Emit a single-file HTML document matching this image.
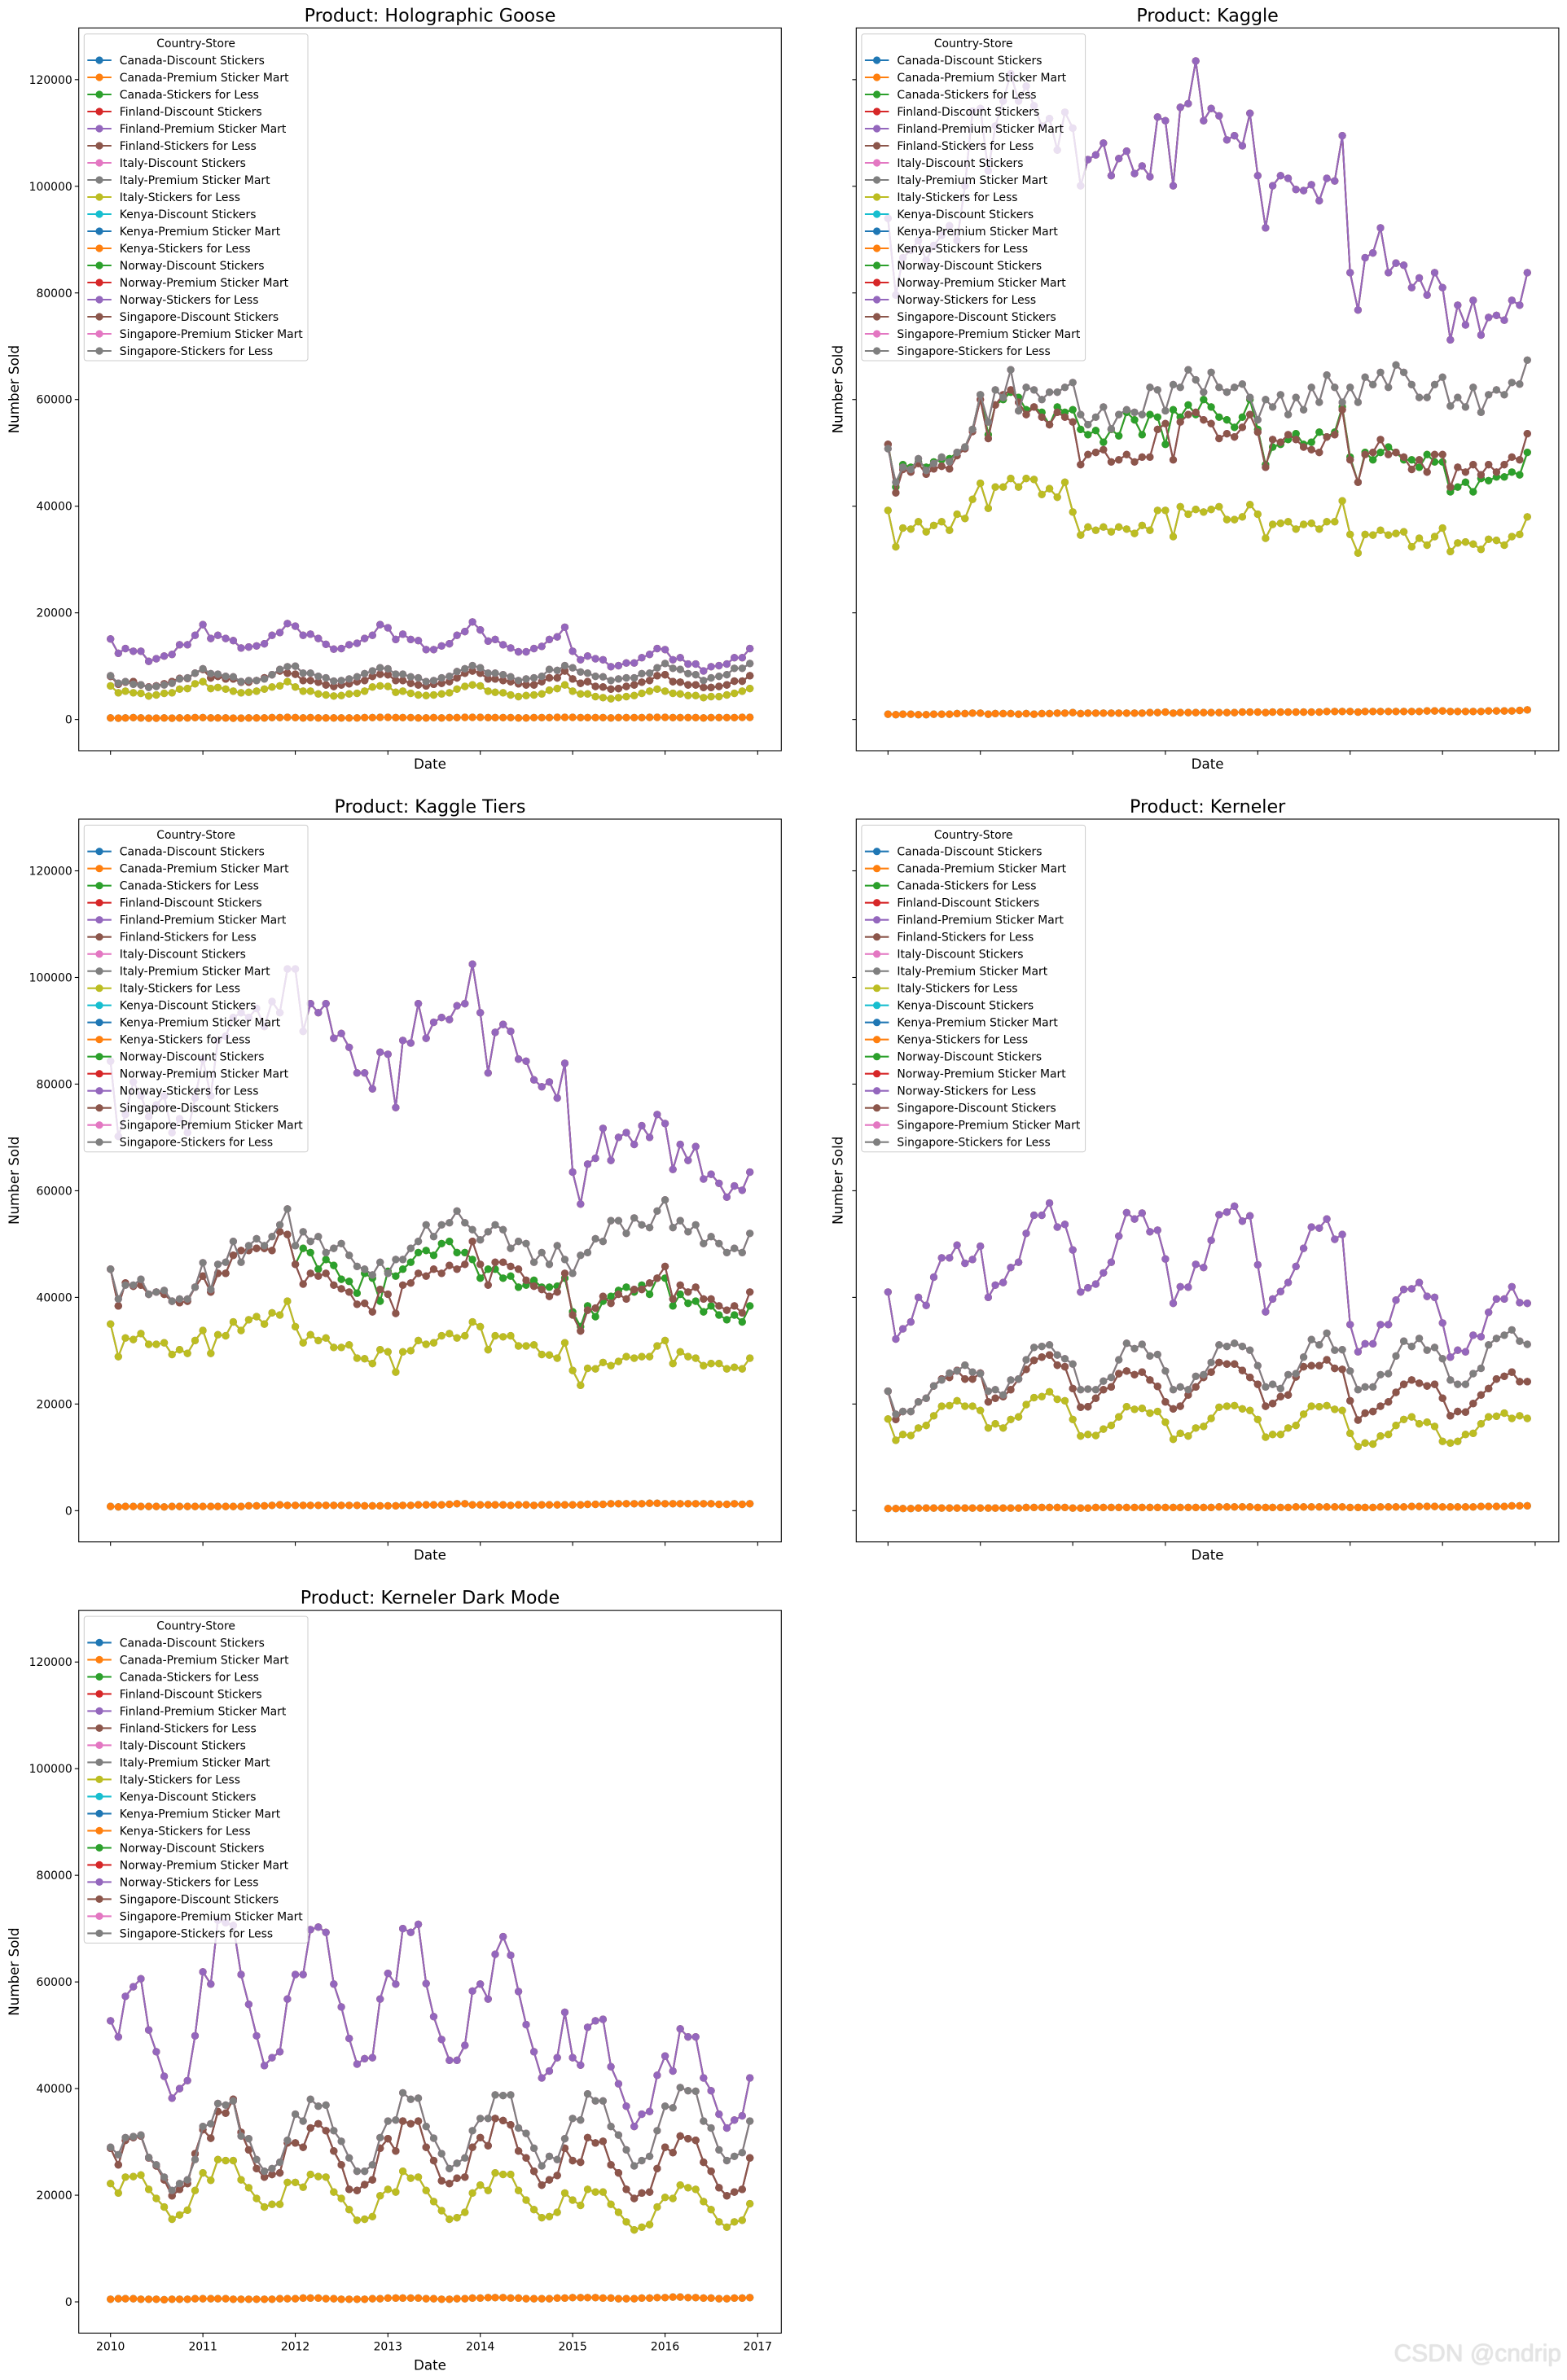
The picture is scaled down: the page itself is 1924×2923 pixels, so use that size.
<!DOCTYPE html>
<html>
<head>
<meta charset="utf-8">
<style>
  html,body{margin:0;padding:0;background:#fff;}
  svg{display:block;}
  text{font-family:"DejaVu Sans","Liberation Sans",sans-serif;fill:#000;}
  .wm{font-family:"Liberation Sans",sans-serif;fill:#e4e4e4;}
</style>
</head>
<body>
<svg id="fig" xmlns="http://www.w3.org/2000/svg" width="1924" height="2923" viewBox="0 0 1924 2923">
  <rect x="0" y="0" width="1924" height="2923" fill="#ffffff"/>
  <text class="wm" x="1917" y="2900" font-size="30" text-anchor="end" style="filter:drop-shadow(0.5px 0.5px 0.6px #c8c8c8)">CSDN @cndrip</text>
</svg>
<script>
// ---------------- DATA (values in thousands) ----------------
const categories = ["Holographic Goose","Kaggle","Kaggle Tiers","Kerneler","Kerneler Dark Mode"];
const countries = ["Canada","Finland","Italy","Kenya","Norway","Singapore"];
const stores = ["Discount Stickers","Premium Sticker Mart","Stickers for Less"];
const yTickValues = [0,20000,40000,60000,80000,100000,120000];
const yTickLabels = ["0","20000","40000","60000","80000","100000","120000"];
const xTickYears = [2010,2011,2012,2013,2014,2015,2016,2017];
const xTickLabels = ["2010","2011","2012","2013","2014","2015","2016","2017"];

// Holographic Goose
const hgNorway = [15.1,12.4,13.3,12.8,12.8,10.9,11.4,11.9,12.2,14.0,14.0,15.8, 17.8,15.2,15.8,15.2,14.8,13.4,13.6,13.8,14.2,15.8,16.3,18.0, 17.5,15.8,16.0,15.2,14.1,13.2,13.3,14.0,14.3,15.2,15.8,17.8, 17.2,15.0,16.0,15.0,14.8,13.1,13.1,13.8,14.2,15.8,16.5,18.3, 16.8,14.7,15.0,14.0,13.4,12.7,12.7,13.3,13.7,15.0,15.5,17.3, 12.8,11.2,11.9,11.4,11.2,9.9,10.1,10.6,10.6,11.6,12.2,13.3, 13.1,11.2,11.6,10.4,10.4,9.1,9.9,10.1,10.4,11.6,11.6,13.3];
const hgSingapore = [8.2,6.8,7.1,6.6,6.5,6.0,6.2,6.5,6.8,7.6,7.8,8.7, 9.5,8.6,8.5,8.1,8.0,7.1,7.3,7.3,7.6,8.4,9.4,9.9, 10.0,8.7,8.7,8.1,7.8,7.2,7.3,7.6,8.0,8.6,9.1,9.7, 9.5,8.5,8.5,8.0,7.8,7.1,7.3,7.8,8.1,9.0,9.5,10.1, 9.7,8.7,8.7,8.4,8.0,7.3,7.6,7.8,8.1,9.4,9.2,10.1, 9.7,8.9,8.7,8.1,8.0,7.3,7.6,7.8,7.8,8.6,8.7,9.7, 10.5,9.6,9.4,8.6,8.4,7.3,7.8,8.1,8.4,9.6,9.6,10.5];
const hgCanada = [8.1,6.6,7.0,7.1,6.5,6.1,6.3,6.7,7.1,7.7,7.7,8.7, 9.4,7.8,8.1,7.6,7.6,7.0,7.0,7.3,7.8,8.4,9.1,8.7, 8.5,7.3,7.3,7.0,6.5,6.2,6.5,6.7,7.1,7.3,8.1,8.5, 8.4,7.3,7.3,6.8,6.5,6.3,6.6,6.8,7.1,7.8,8.7,9.1, 8.7,7.6,7.6,7.3,7.1,6.7,6.5,6.5,7.1,7.8,7.8,9.1, 7.6,6.8,7.1,6.2,6.1,5.7,5.8,6.2,6.5,7.0,7.3,8.2, 8.4,7.1,7.0,6.5,6.5,6.0,6.0,6.2,6.5,7.2,7.2,8.2];
const hgFinland = [8.1,6.6,7.0,7.1,6.5,6.1,6.3,6.7,7.1,7.7,7.7,8.7, 9.4,7.8,8.1,7.6,7.6,7.0,7.0,7.3,7.8,8.4,9.1,8.7, 8.5,7.3,7.3,7.0,6.5,6.2,6.5,6.7,7.1,7.3,8.1,8.5, 8.4,7.3,7.3,6.8,6.5,6.3,6.6,6.8,7.1,7.8,8.7,9.1, 8.7,7.6,7.6,7.3,7.1,6.7,6.5,6.5,7.1,7.8,7.8,9.1, 7.6,6.8,7.1,6.2,6.1,5.7,5.8,6.2,6.5,7.0,7.3,8.2, 8.4,7.1,7.0,6.5,6.5,6.0,6.0,6.2,6.5,7.2,7.2,8.2];
const hgItaly = [6.3,5.0,5.3,5.0,4.9,4.4,4.6,4.9,5.0,5.7,5.8,6.7, 7.1,5.8,6.0,5.7,5.3,5.0,5.1,5.3,5.7,6.1,6.3,7.1, 6.1,5.3,5.3,4.8,4.6,4.4,4.5,4.8,4.9,5.3,6.1,6.3, 6.2,5.1,5.3,4.9,4.6,4.5,4.6,4.8,5.0,5.7,6.2,6.5, 6.3,5.3,5.1,5.0,4.6,4.3,4.5,4.6,4.8,5.5,5.8,6.5, 5.3,4.8,4.8,4.3,4.1,3.9,4.1,4.3,4.5,4.9,5.3,5.7, 5.3,4.9,4.8,4.5,4.5,4.1,4.3,4.3,4.6,4.9,5.3,5.8];
const hgKenya = [0.3,0.25,0.3,0.35,0.3,0.25,0.25,0.3,0.25,0.3,0.3,0.35, 0.35,0.3,0.3,0.3,0.25,0.25,0.3,0.3,0.3,0.35,0.35,0.4, 0.35,0.3,0.35,0.3,0.3,0.3,0.3,0.3,0.3,0.35,0.35,0.4, 0.4,0.35,0.35,0.35,0.3,0.3,0.35,0.3,0.35,0.35,0.4,0.4, 0.4,0.35,0.35,0.35,0.35,0.3,0.3,0.35,0.35,0.35,0.4,0.4, 0.4,0.35,0.35,0.35,0.35,0.3,0.35,0.35,0.35,0.35,0.4,0.4, 0.4,0.35,0.35,0.35,0.35,0.3,0.35,0.35,0.35,0.35,0.4,0.4];

// Kaggle
const kgNorway = [94.0,79.6,86.6,88.0,89.8,86.1,88.9,90.8,92.6,89.8,100.1,114.1, 114.6,102.9,111.3,116.0,121.1,116.0,118.8,115.1,111.3,112.7,106.8,113.9, 110.9,100.1,105.0,105.9,108.1,102.0,105.2,106.6,102.4,103.8,101.8,113.0, 112.3,100.1,114.8,115.5,123.5,112.3,114.6,113.2,108.7,109.5,107.6,113.7, 102.0,92.2,100.1,102.0,101.5,99.4,99.2,100.3,97.3,101.5,101.0,109.5, 83.8,76.8,86.6,87.5,92.2,83.8,85.6,85.2,81.0,82.8,79.6,83.8, 81.0,71.2,77.7,74.0,78.6,72.1,75.4,75.8,74.9,78.6,77.7,83.8];
const kgSingapore = [50.8,44.5,47.3,46.9,48.9,46.7,48.0,49.2,48.3,50.1,51.1,54.4, 60.9,55.8,61.8,60.4,65.6,57.9,62.3,61.8,60.0,61.4,61.4,62.3, 63.2,57.2,55.3,56.7,58.6,54.5,57.2,58.1,57.6,57.2,62.3,61.8, 57.9,62.8,62.3,65.6,63.7,61.4,65.1,62.3,61.4,62.3,62.9,60.4, 56.2,60.0,58.6,60.9,57.2,60.4,58.1,62.3,59.5,64.6,62.3,59.5, 62.3,59.5,64.2,62.8,65.1,62.3,66.5,65.1,62.8,60.4,60.4,62.8, 64.2,58.8,60.4,58.6,62.3,57.6,60.9,61.8,60.9,63.2,62.9,67.4];
const kgCanada = [51.6,43.6,47.8,47.3,48.3,47.3,48.3,48.7,48.9,50.1,51.1,54.4, 60.9,53.4,59.0,60.0,61.4,60.4,58.1,58.6,57.6,55.3,58.6,57.6, 58.1,54.4,53.4,54.2,52.0,54.4,53.2,57.6,56.2,53.4,57.2,56.7, 51.6,58.1,56.7,59.0,57.2,60.0,58.6,56.7,56.2,54.8,56.7,60.0, 54.4,47.8,51.1,51.6,52.5,53.6,51.6,52.0,53.9,53.0,53.9,58.6, 49.2,44.5,50.1,48.7,50.1,51.1,50.1,48.7,48.7,47.3,49.7,48.3, 48.3,42.7,43.6,44.5,42.7,45.2,44.8,45.5,45.5,46.4,45.9,50.1];
const kgFinland = [51.6,42.5,46.9,46.4,48.0,46.0,47.0,47.5,47.0,49.5,50.8,54.0, 60.0,52.7,59.0,60.9,61.8,59.5,57.2,58.6,56.7,55.3,57.6,56.7, 55.8,47.8,49.7,50.1,50.6,48.3,48.7,49.7,48.3,49.2,49.2,54.4, 55.5,48.7,55.8,57.2,57.6,56.2,55.5,52.7,53.6,53.0,54.8,57.2, 53.9,47.3,52.5,52.0,53.4,52.5,51.1,50.6,50.1,53.0,53.4,58.1, 48.7,44.5,49.7,50.1,52.5,49.7,50.1,49.2,46.9,48.7,46.4,49.7, 49.7,43.6,47.3,46.4,47.8,45.9,47.8,46.4,47.8,49.2,48.7,53.6];
const kgItaly = [39.2,32.4,35.9,35.7,37.1,35.2,36.4,37.1,35.5,38.5,37.7,41.3, 44.3,39.6,43.6,43.6,45.2,43.6,45.2,45.0,42.2,43.3,41.7,44.5, 38.9,34.6,36.1,35.5,36.1,35.2,36.1,35.7,34.9,36.4,35.5,39.2, 39.2,34.3,39.9,38.5,39.4,38.9,39.4,39.9,37.5,37.5,38.0,40.3, 38.5,34.0,36.6,36.8,37.1,35.7,36.6,36.8,35.7,37.1,37.1,41.0, 34.7,31.2,34.7,34.6,35.5,34.6,34.9,35.2,32.4,34.0,32.7,34.3, 35.9,31.5,33.1,33.3,32.9,31.9,33.8,33.6,32.7,34.3,34.7,38.0];
const kgKenya = [1.0,0.9,1.0,1.0,0.9,0.9,1.0,1.0,1.0,1.1,1.1,1.2, 1.2,1.0,1.1,1.1,1.1,1.0,1.1,1.0,1.1,1.1,1.2,1.2, 1.3,1.1,1.2,1.2,1.2,1.2,1.2,1.2,1.2,1.2,1.3,1.3, 1.4,1.2,1.3,1.3,1.3,1.3,1.3,1.3,1.3,1.3,1.4,1.4, 1.4,1.3,1.4,1.4,1.4,1.4,1.4,1.4,1.4,1.5,1.5,1.5, 1.5,1.4,1.5,1.5,1.5,1.5,1.5,1.5,1.5,1.5,1.6,1.6, 1.6,1.5,1.5,1.5,1.5,1.5,1.6,1.6,1.6,1.6,1.7,1.8];

// Kaggle Tiers
const ktNorway = [84.3,70.2,74.3,80.4,77.8,73.9,76.1,77.8,70.9,73.5,70.9,77.4, 84.7,77.8,88.2,89.0,92.5,93.4,92.5,94.2,90.8,95.5,93.4,101.6, 101.6,89.9,95.1,93.4,95.1,88.6,89.5,86.9,82.1,82.1,79.1,86.0, 85.6,75.6,88.2,87.7,95.1,88.6,91.6,92.5,92.1,94.7,95.1,102.5, 93.4,82.1,89.7,91.2,89.9,84.7,84.3,80.8,79.5,80.4,77.4,83.9, 63.5,57.5,65.0,66.1,71.7,65.7,70.0,70.9,68.7,72.2,70.0,74.3, 72.6,64.0,68.7,65.7,68.3,62.2,63.1,61.4,58.8,60.9,60.1,63.5];
const ktSingapore = [45.3,39.7,42.3,42.3,43.4,40.6,41.0,41.3,39.3,39.7,39.7,41.9, 46.5,41.5,46.2,46.6,50.5,46.6,49.7,51.0,49.7,51.4,53.6,56.6, 49.7,52.3,50.5,51.4,48.4,49.2,50.1,47.9,45.8,45.3,44.2,46.6, 44.5,47.1,47.1,49.2,50.5,53.6,51.4,53.6,54.0,56.2,54.0,52.7, 50.8,52.3,53.6,52.7,49.2,50.5,50.1,46.6,48.4,46.2,49.7,47.1, 44.5,47.9,48.4,51.0,50.5,54.4,54.4,52.0,54.9,53.6,53.1,56.2, 58.3,53.1,54.4,52.3,53.6,50.1,51.4,50.1,48.4,49.2,48.4,52.0];
const ktCanada = [45.3,38.4,42.7,42.1,42.3,40.6,41.0,40.6,39.3,39.0,39.3,41.9, 44.0,41.0,44.5,44.5,47.9,48.8,48.8,49.2,49.2,48.8,52.3,51.8, 46.2,49.2,48.4,45.3,47.1,46.0,43.4,43.0,40.8,44.5,43.6,39.3, 44.9,44.0,45.3,46.6,48.4,48.8,47.9,50.1,50.5,48.4,48.4,47.1, 43.6,45.3,45.3,43.6,44.0,41.9,42.3,43.2,41.9,41.9,42.1,43.6, 37.3,34.5,38.4,36.4,39.3,40.2,41.3,41.9,41.0,42.3,40.6,43.6, 43.6,38.4,40.6,38.9,39.3,37.3,38.4,36.7,35.8,36.7,35.4,38.4];
const ktFinland = [45.3,38.4,42.7,42.1,42.3,40.6,41.0,40.6,39.3,39.0,39.3,41.9, 44.0,41.0,44.5,44.5,47.9,48.8,48.8,49.2,49.2,48.8,52.3,51.8, 46.2,42.5,44.5,44.0,44.5,42.3,41.6,41.0,38.7,38.9,37.3,41.5, 40.6,37.0,42.3,42.7,44.5,44.0,45.3,44.5,46.0,45.3,46.2,50.5, 46.2,42.3,46.6,46.6,45.8,45.3,43.2,42.1,41.5,40.2,41.0,44.5, 36.7,33.7,37.6,38.0,40.2,38.9,40.6,39.7,41.5,41.5,42.7,43.6, 45.8,39.7,42.3,41.0,41.9,39.7,39.7,38.4,37.6,38.4,37.1,41.0];
const ktItaly = [35.0,28.9,32.4,32.1,33.2,31.2,31.2,31.5,29.3,30.2,29.5,31.9, 33.8,29.5,33.0,32.8,35.4,33.8,35.8,36.4,35.0,37.1,36.7,39.3, 34.5,31.5,33.0,31.9,32.4,30.6,30.6,31.1,28.6,28.5,27.6,30.2, 29.8,26.0,29.8,30.0,31.9,31.2,31.5,32.8,33.2,32.4,32.8,35.4, 34.5,30.2,32.8,32.6,32.8,30.9,30.9,31.1,29.3,29.2,28.6,31.5, 26.3,23.5,26.7,26.6,27.8,27.2,28.0,28.9,28.6,28.9,28.9,30.9, 31.9,27.6,29.8,28.9,28.6,27.2,27.6,27.6,26.6,26.9,26.6,28.6];
const ktKenya = [0.8,0.7,0.8,0.8,0.8,0.8,0.8,0.7,0.8,0.8,0.8,0.8, 0.8,0.8,0.8,0.8,0.8,0.8,0.9,0.9,0.9,1.0,1.1,1.0, 1.0,1.0,1.0,1.0,1.0,1.0,1.0,1.0,1.0,0.9,0.9,0.9, 0.9,0.9,1.0,1.0,1.1,1.1,1.1,1.1,1.2,1.3,1.3,1.1, 1.1,1.1,1.1,1.1,1.0,1.1,1.1,1.0,1.1,1.1,1.1,1.1, 1.1,1.1,1.2,1.2,1.2,1.3,1.3,1.3,1.3,1.3,1.4,1.4, 1.3,1.3,1.3,1.3,1.3,1.3,1.3,1.2,1.2,1.3,1.2,1.3];

// Kerneler
const knNorway = [41.0,32.2,34.1,35.4,40.0,38.5,43.8,47.4,47.4,49.8,46.4,47.1, 49.6,40.0,42.3,42.8,45.6,46.6,52.0,55.4,55.4,57.7,53.2,53.7, 48.9,41.0,41.8,42.5,44.6,46.6,51.5,55.9,54.7,55.8,52.3,52.6, 47.2,38.9,42.0,41.9,46.2,45.6,50.7,55.5,56.0,57.1,54.3,55.3, 46.1,37.3,39.7,41.1,42.8,45.8,49.2,53.2,53.0,54.7,50.9,51.8, 34.9,29.8,31.3,31.3,34.9,34.9,39.5,41.5,41.6,42.8,40.2,40.0, 35.2,28.8,30.1,29.8,32.9,32.6,37.2,39.7,39.7,42.0,39.0,38.9];
const knSingapore = [22.4,18.1,18.6,18.6,20.4,21.1,23.4,24.5,25.8,26.2,27.3,26.0, 25.7,22.4,22.7,21.7,24.5,24.7,28.3,30.6,30.8,31.1,29.2,28.5, 27.5,22.7,22.8,22.7,24.3,25.0,28.3,31.4,30.4,31.2,29.0,29.3, 26.2,22.7,23.2,22.7,25.2,25.5,27.8,31.1,30.8,31.4,30.8,30.1, 27.2,23.2,23.7,22.9,25.5,25.7,28.8,32.1,31.1,33.3,30.1,30.2, 26.2,22.7,23.2,23.2,25.5,25.7,29.0,31.8,30.8,32.3,30.1,30.6, 28.5,24.5,23.7,23.7,25.7,26.7,31.1,32.3,32.9,33.9,31.8,31.2];
const knCanada = [22.4,17.1,18.6,18.6,20.4,21.1,23.4,24.7,25.0,26.3,24.7,24.7, 25.8,20.4,21.1,21.4,22.7,24.7,26.5,28.2,28.8,29.2,27.3,27.0, 22.9,19.4,19.5,21.1,22.7,23.2,25.7,26.2,25.5,26.0,24.5,23.3, 20.4,19.1,19.6,21.7,23.2,25.0,26.0,27.8,27.5,27.5,26.3,25.0, 23.7,19.6,20.1,21.4,21.7,25.1,27.0,27.2,27.2,28.3,26.7,26.5, 20.6,17.0,18.3,18.6,19.6,20.4,22.2,23.7,24.5,23.9,23.4,23.7, 21.1,17.8,18.6,18.5,20.1,21.7,22.9,24.7,25.2,26.0,24.2,24.2];
const knFinland = [22.4,17.1,18.6,18.6,20.4,21.1,23.4,24.7,25.0,26.3,24.7,24.7, 25.8,20.4,21.1,21.4,22.7,24.7,26.5,28.2,28.8,29.2,27.3,27.0, 22.9,19.4,19.5,21.1,22.7,23.2,25.7,26.2,25.5,26.0,24.5,23.3, 20.4,19.1,19.6,21.7,23.2,25.0,26.0,27.8,27.5,27.5,26.3,25.0, 23.7,19.6,20.1,21.4,21.7,25.1,27.0,27.2,27.2,28.3,26.7,26.5, 20.6,17.0,18.3,18.6,19.6,20.4,22.2,23.7,24.5,23.9,23.4,23.7, 21.1,17.8,18.6,18.5,20.1,21.7,22.9,24.7,25.2,26.0,24.2,24.2];
const knItaly = [17.2,13.2,14.3,14.1,15.5,16.0,17.8,19.6,19.7,20.6,19.6,19.6, 18.8,15.5,16.3,15.5,17.1,17.6,19.9,21.2,21.4,22.3,20.9,20.6, 17.1,14.0,14.3,14.1,15.3,16.0,17.6,19.5,19.0,19.2,18.3,18.6, 16.6,13.4,14.5,14.0,15.5,15.8,17.3,19.4,19.6,19.7,19.1,18.8, 17.1,13.8,14.3,14.3,15.5,16.0,18.1,19.6,19.5,19.7,19.0,18.8, 14.5,12.0,12.7,12.5,14.0,14.3,16.0,17.1,17.6,16.3,16.6,15.8, 13.0,12.7,13.0,14.3,14.5,16.3,17.6,17.7,18.3,17.3,17.8,17.3];
const knKenya = [0.4,0.4,0.4,0.4,0.5,0.5,0.5,0.5,0.5,0.5,0.5,0.5, 0.5,0.5,0.5,0.5,0.5,0.5,0.6,0.6,0.6,0.6,0.6,0.6, 0.5,0.5,0.5,0.6,0.6,0.6,0.6,0.6,0.6,0.6,0.6,0.6, 0.6,0.6,0.6,0.6,0.6,0.6,0.6,0.7,0.7,0.7,0.7,0.7, 0.6,0.6,0.6,0.6,0.6,0.7,0.7,0.7,0.7,0.7,0.7,0.7, 0.6,0.6,0.6,0.6,0.7,0.7,0.7,0.7,0.8,0.8,0.8,0.8, 0.7,0.7,0.7,0.7,0.7,0.8,0.8,0.8,0.8,0.9,0.9,0.9];

// Kerneler Dark Mode
const kdNorway = [52.7,49.7,57.3,59.1,60.6,51.0,46.9,42.3,38.2,40.0,41.5,49.9, 61.9,59.6,71.6,71.1,70.6,61.4,55.8,49.9,44.3,45.8,46.9,56.8, 61.4,61.4,69.8,70.3,69.3,59.6,55.3,49.4,44.6,45.6,45.8,56.8, 61.6,59.6,70.0,69.3,70.8,59.7,53.5,49.2,45.3,45.3,48.1,58.3, 59.6,56.8,65.2,68.5,65.0,58.2,52.0,46.9,42.0,43.3,45.8,54.3, 45.8,44.4,51.5,52.7,53.0,44.1,40.9,36.7,32.9,35.2,35.7,42.5, 46.1,43.3,51.2,49.7,49.7,42.0,39.6,35.2,32.6,34.1,34.9,42.0];
const kdSingapore = [29.0,27.6,30.8,31.0,31.3,27.1,25.7,23.4,20.9,22.2,22.9,26.7, 32.9,33.4,37.2,36.9,37.7,31.1,30.6,26.7,24.5,25.0,26.2,30.3, 35.2,33.9,38.0,36.7,36.9,32.1,30.1,27.0,24.5,24.5,25.7,30.8, 33.9,34.1,39.2,38.0,38.2,32.9,30.7,27.8,25.0,26.0,27.0,32.1, 34.4,34.4,38.8,38.7,38.8,32.6,31.6,28.8,25.5,27.3,26.7,30.6, 34.4,34.1,39.0,37.7,37.7,32.9,31.3,28.5,25.5,26.5,27.3,32.1, 36.7,36.4,40.2,39.6,39.5,33.9,32.6,28.5,26.5,27.3,28.0,33.9];
const kdCanada = [28.8,25.7,30.3,30.8,31.1,27.0,25.5,22.9,19.9,21.1,22.2,27.8, 32.3,30.7,35.7,35.4,38.0,31.8,28.5,25.0,23.4,23.9,24.2,29.8, 29.8,29.0,32.6,33.4,32.1,28.3,25.7,21.1,20.9,22.0,22.9,28.8, 30.6,28.3,33.9,33.4,33.9,29.0,26.5,22.7,22.2,23.2,23.4,29.0, 30.8,29.3,34.4,34.0,33.2,28.3,27.0,24.5,21.9,22.9,23.7,28.8, 26.5,26.2,30.8,29.8,30.1,25.7,24.2,21.1,19.4,20.4,20.6,25.0, 29.0,28.0,31.1,30.6,30.3,26.2,24.5,21.4,19.9,20.6,21.1,27.0];
const kdFinland = [28.8,25.7,30.3,30.8,31.1,27.0,25.5,22.9,19.9,21.1,22.2,27.8, 32.3,30.7,35.7,35.4,38.0,31.8,28.5,25.0,23.4,23.9,24.2,29.8, 29.8,29.0,32.6,33.4,32.1,28.3,25.7,21.1,20.9,22.0,22.9,28.8, 30.6,28.3,33.9,33.4,33.9,29.0,26.5,22.7,22.2,23.2,23.4,29.0, 30.8,29.3,34.4,34.0,33.2,28.3,27.0,24.5,21.9,22.9,23.7,28.8, 26.5,26.2,30.8,29.8,30.1,25.7,24.2,21.1,19.4,20.4,20.6,25.0, 29.0,28.0,31.1,30.6,30.3,26.2,24.5,21.4,19.9,20.6,21.1,27.0];
const kdItaly = [22.2,20.4,23.4,23.5,23.8,21.1,19.4,17.8,15.5,16.3,17.2,20.9, 24.2,22.8,26.7,26.5,26.5,22.9,21.4,19.4,17.8,18.3,18.3,22.4, 22.4,21.5,23.9,23.5,23.4,20.6,19.4,17.3,15.3,15.5,16.0,19.9, 21.1,20.6,24.5,23.2,23.4,20.9,18.8,17.1,15.5,15.8,16.8,20.4, 21.9,20.9,24.2,23.9,23.9,20.9,19.1,17.3,15.8,16.0,16.8,20.4, 19.1,18.1,21.1,20.6,20.6,18.3,16.8,15.0,13.5,14.0,14.5,17.8, 19.6,19.4,21.9,21.4,21.1,18.8,17.3,15.0,14.0,15.0,15.3,18.4];
const kdKenya = [0.5,0.6,0.6,0.6,0.5,0.5,0.5,0.4,0.5,0.5,0.5,0.6, 0.6,0.6,0.6,0.6,0.5,0.5,0.5,0.5,0.5,0.5,0.6,0.6, 0.6,0.7,0.7,0.7,0.6,0.6,0.5,0.5,0.5,0.5,0.6,0.6, 0.7,0.7,0.7,0.7,0.7,0.6,0.6,0.5,0.5,0.6,0.6,0.7, 0.7,0.8,0.8,0.8,0.7,0.7,0.6,0.6,0.6,0.6,0.7,0.7, 0.8,0.8,0.8,0.8,0.7,0.7,0.6,0.6,0.6,0.7,0.7,0.8, 0.8,0.9,0.9,0.8,0.8,0.7,0.7,0.6,0.6,0.7,0.7,0.8];

const productBands = [
  [hgCanada,hgFinland,hgItaly,hgKenya,hgNorway,hgSingapore],
  [kgCanada,kgFinland,kgItaly,kgKenya,kgNorway,kgSingapore],
  [ktCanada,ktFinland,ktItaly,ktKenya,ktNorway,ktSingapore],
  [knCanada,knFinland,knItaly,knKenya,knNorway,knSingapore],
  [kdCanada,kdFinland,kdItaly,kdKenya,kdNorway,kdSingapore]
];

// ---------------- LAYOUT ----------------
const NS = "http://www.w3.org/2000/svg";
const svg = document.getElementById("fig");
const COLORS = ["#1f77b4","#ff7f0e","#2ca02c","#d62728","#9467bd","#8c564b","#e377c2","#7f7f7f","#bcbd22","#17becf"];
const colX = [96.7, 1051.3];
const rowY = [34.3, 1006.0, 1977.7];
const AW = 862.6, AH = 887.7;
const YMIN = -5.86, YMAX = 129.7;
const PX_PER_DAY = 794.6 / 2557;
const T0 = Date.UTC(2010,0,1);
const MR = 4.6;

function mk(tag, attrs, parent){
  const e = document.createElementNS(NS, tag);
  for (const k in attrs) e.setAttribute(k, attrs[k]);
  (parent || svg).appendChild(e);
  return e;
}
function monthDays(m){ return (Date.UTC(2010 + Math.floor(m/12), m%12, 1) - T0) / 86400000; }
function yearDays(y){ return (Date.UTC(y,0,1) - T0) / 86400000; }

categories.forEach(function(prod, p){
  const r = Math.floor(p/2), c = p%2;
  const X0 = colX[c], Y0 = rowY[r];
  const xs = function(days){ return X0 + 39 + days*PX_PER_DAY; };
  const ys = function(v){ return Y0 + (YMAX - v)/(YMAX - YMIN)*AH; };
  const g = mk("g", {});
  
  

  const cp = mk("clipPath", {id:"clip"+p}, g);
  mk("rect", {x:X0, y:Y0, width:AW, height:AH}, cp);

  const sg = mk("g", {"clip-path":"url(#clip"+p+")"}, g);
  let si = 0;
  countries.forEach(function(country, ci){
    const band = productBands[p][ci];
    stores.forEach(function(store){
      const col = COLORS[si % 10];
      const lg = mk("g", {}, sg);
      
      
      const pts = band.map(function(v, m){ return xs(monthDays(m)).toFixed(1) + "," + ys(v).toFixed(1); }).join(" ");
      mk("polyline", {points:pts, fill:"none", stroke:col, "stroke-width":2.1, "stroke-linejoin":"round"}, lg);
      band.forEach(function(v, m){
        const dot = mk("circle", {cx:xs(monthDays(m)).toFixed(1), cy:ys(v).toFixed(1), r:MR, fill:col}, lg);
        
        
      });
      si++;
    });
  });

  const fr = mk("rect", {x:X0, y:Y0, width:AW, height:AH, fill:"none", stroke:"#000", "stroke-width":1.1}, g);
  
  

  yTickValues.forEach(function(v, i){
    const y = ys(v/1000);
    mk("line", {x1:X0-4.9, x2:X0, y1:y, y2:y, stroke:"#000", "stroke-width":1.1}, g);
    if (c === 0){
      const t = mk("text", {x:X0-8, y:y+5, "font-size":13.9, "text-anchor":"end"}, g);
      t.textContent = yTickLabels[i];
      
      
    }
  });
  xTickYears.forEach(function(yr, i){
    const x = xs(yearDays(yr));
    mk("line", {x1:x, x2:x, y1:Y0+AH, y2:Y0+AH+4.9, stroke:"#000", "stroke-width":1.1}, g);
    if (p === 4){
      const t = mk("text", {x:x, y:Y0+AH+21, "font-size":13.9, "text-anchor":"middle"}, g);
      t.textContent = xTickLabels[i];
      
      
    }
  });

  const tt = mk("text", {x:X0+AW/2, y:Y0-8, "font-size":22.2, "text-anchor":"middle"}, g);
  tt.textContent = "Product: " + prod;
  
  
  const xl = mk("text", {x:X0+AW/2, y:(p===4 ? Y0+AH+45 : Y0+AH+22), "font-size":16.7, "text-anchor":"middle"}, g);
  xl.textContent = "Date";
  
  
  const lx = (c === 0) ? 23 : X0 - 17;
  const yl = mk("text", {x:lx, y:Y0+AH/2, "font-size":16.7, "text-anchor":"middle", transform:"rotate(-90 "+lx+" "+(Y0+AH/2)+")"}, g);
  yl.textContent = "Number Sold";
  
  

  const lgd = mk("g", {}, g);
  
  
  const LX = X0 + 6.6, LY = Y0 + 7.4;
  mk("rect", {x:LX, y:LY, width:274.7, height:401.3, rx:3, fill:"#ffffff", "fill-opacity":0.8, stroke:"#cccccc", "stroke-width":1}, lgd);
  const lt = mk("text", {x:LX+137.3, y:LY+16.5, "font-size":13.9, "text-anchor":"middle"}, lgd);
  lt.textContent = "Country-Store";
  
  
  let li = 0;
  countries.forEach(function(country){
    stores.forEach(function(store){
      const cy = LY + 32.3 + li*21.0;
      const col = COLORS[li % 10];
      const e = mk("g", {}, lgd);
      
      
      mk("line", {x1:LX+4, x2:LX+33.5, y1:cy, y2:cy, stroke:col, "stroke-width":2.1}, e);
      mk("circle", {cx:LX+18.7, cy:cy, r:MR, fill:col}, e);
      const t = mk("text", {x:LX+43.5, y:cy+5, "font-size":13.9}, e);
      t.textContent = country + "-" + store;
      li++;
    });
  });
});
</script>
</body>
</html>
